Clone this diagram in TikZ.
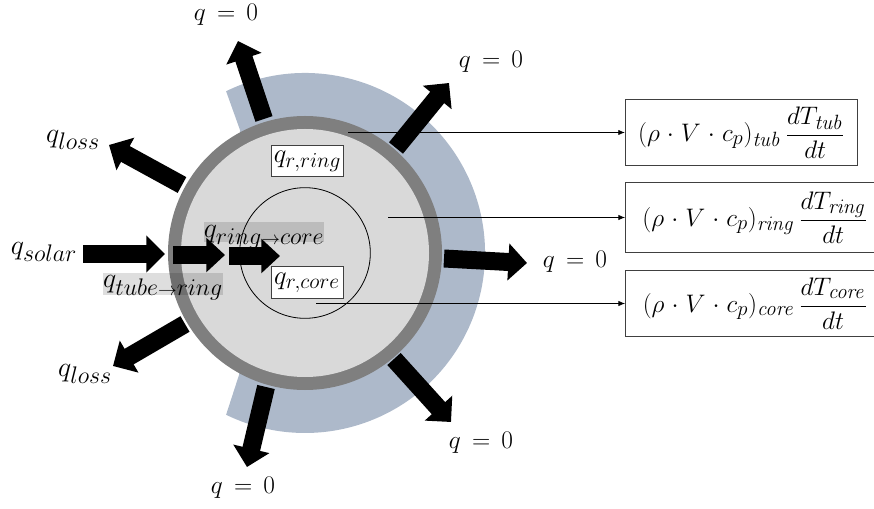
\documentclass[tikz,border=0pt]{standalone}
\usepackage{fix-cm}
\usetikzlibrary{arrows.meta}
\definecolor{wrapblue}{HTML}{ADB9CA}
\definecolor{tubegray}{HTML}{7F7F7F}
\definecolor{ringgray}{HTML}{D9D9D9}
\DeclareMathSizes{21}{21}{18}{14}
\DeclareMathSizes{20}{20}{16}{12}
\DeclareMathSizes{19}{19}{15.5}{12}
\newcommand{\qzero}{$q\mskip3mu=\mskip3mu0$}
\newcommand{\smallto}{{\scriptscriptstyle\to}}
\newcommand{\storage}[1]{$\displaystyle(\rho\mskip1mu\cdot\mskip1mu V\mskip1mu\cdot\mskip1mu c_p)_{\mathit{#1}}\,\frac{dT_{\mathit{#1}}}{dt}$}
\begin{document}
\begin{tikzpicture}[
    x=0.75pt, y=-0.75pt,
    heatflow/.style={-{Triangle[length=14pt,width=27pt]}, draw=black, line width=13.5pt},
    smallflow/.style={-{Triangle[length=14pt,width=25pt]}, draw=black, line width=13pt},
    lead/.style={-{Latex[length=5pt,width=4pt]}, draw=black, line width=0.6pt},
    label/.style={font=\fontsize{19}{23}\selectfont, inner sep=0pt},
    fluxlabel/.style={font=\fontsize{21}{25}\selectfont, inner sep=0pt},
    storagebox/.style={draw=black!75, line width=0.8pt, fill=white, minimum width=174pt, inner sep=0pt,
                       font=\fontsize{19}{23}\selectfont},
    radbox/.style={draw=black!75, line width=0.6pt, fill=white, minimum width=54pt, minimum height=23.5pt,
                   inner sep=0pt, font=\fontsize{20}{24}\selectfont},
    highlight/.style={fluxlabel, fill=black, fill opacity=0.13, text opacity=1}
  ]
    \useasboundingbox (0,0) rectangle (874,509);

    % insulation, tube wall, ring and core
    \coordinate (centre) at (305,253);
    \coordinate (wrapendA) at (239,375);
    \coordinate (wrapendB) at (240,130);
    \fill[wrapblue] (centre) ++(116:135pt) arc[start angle=116, end angle=-116, radius=135pt]
        -- (wrapendA) -- (wrapendB) -- cycle;
    \node[circle, fill=tubegray, minimum size=205.5pt, inner sep=0pt] (tube) at (centre) {};
    \node[circle, fill=ringgray, minimum size=186pt, inner sep=0pt] (ring) at (centre) {};
    \node[circle, draw=black, line width=0.6pt, minimum size=98pt, inner sep=0pt] (core) at (centre) {};

    \node[radbox] (qrring) at (307.5,161) {$q_{r,ring}$};
    \node[radbox] (qrcore) at (307,282.5) {$q_{r,core}$};

    % storage terms
    \node[storagebox, minimum height=50pt] (boxtub) at (741.5,132.5) {\storage{tub}};
    \node[storagebox, minimum width=194pt, minimum height=52pt] (boxring) at (755,217.5) {\storage{ring}};
    \node[storagebox, minimum width=194pt, minimum height=50pt] (boxcore) at (755,303.5) {\storage{core}};

    \coordinate (tubstart) at (348,132.5);
    \coordinate (ringstart) at (388,217.5);
    \coordinate (corestart) at (316,303.5);
    \draw[lead] (tubstart) -- (boxtub.west);
    \draw[lead] (ringstart) -- (boxring.west);
    \draw[lead] (corestart) -- (boxcore.west);

    % heat flows
    \coordinate (solarA) at (83,254);    \coordinate (solarB) at (165,254);
    \coordinate (tubeA) at (173,255);    \coordinate (tubeB) at (225,255);
    \coordinate (ringA) at (229,256);    \coordinate (ringB) at (280,256);
    \coordinate (lossA) at (182,185);    \coordinate (lossB) at (109,145);
    \coordinate (lossC) at (185,324);    \coordinate (lossD) at (113,366);
    \coordinate (zeroA) at (264,119);    \coordinate (zeroB) at (238,41);
    \coordinate (zeroC) at (396,148);    \coordinate (zeroD) at (449,83);
    \coordinate (zeroE) at (444,258.5);  \coordinate (zeroF) at (527,263);
    \coordinate (zeroG) at (394,359);    \coordinate (zeroH) at (451,422);
    \coordinate (zeroI) at (266,387);    \coordinate (zeroJ) at (247,467);

    \draw[heatflow] (solarA) -- (solarB);
    \draw[smallflow] (tubeA) -- (tubeB);
    \draw[smallflow] (ringA) -- (ringB);
    \draw[heatflow] (lossA) -- (lossB);
    \draw[heatflow] (lossC) -- (lossD);
    \draw[heatflow] (zeroA) -- (zeroB);
    \draw[heatflow] (zeroC) -- (zeroD);
    \draw[heatflow] (zeroE) -- (zeroF);
    \draw[heatflow] (zeroG) -- (zeroH);
    \draw[heatflow] (zeroI) -- (zeroJ);

    \node[fluxlabel] (qsolar) at (44,252) {$q_{solar}$};
    \node[fluxlabel] (qlossup) at (73,140) {$q_{loss}$};
    \node[fluxlabel] (qlossdown) at (85,374) {$q_{loss}$};
    \node[highlight, minimum width=90pt, text height=11.25pt, text depth=5.25pt] (qtube) at (163,284) {$q_{tube\smallto ring}$};
    \node[highlight, minimum width=88pt, text height=12pt, text depth=3pt] (qring) at (264,232) {$q_{ring\smallto core}$};
    \node[label] (zerotop) at (226,15) {\qzero};
    \node[label] (zeroupper) at (491,62) {\qzero};
    \node[label] (zeroright) at (575,262) {\qzero};
    \node[label] (zerolower) at (481,443) {\qzero};
    \node[label] (zerobottom) at (243,488) {\qzero};
  \end{tikzpicture}
\end{document}
